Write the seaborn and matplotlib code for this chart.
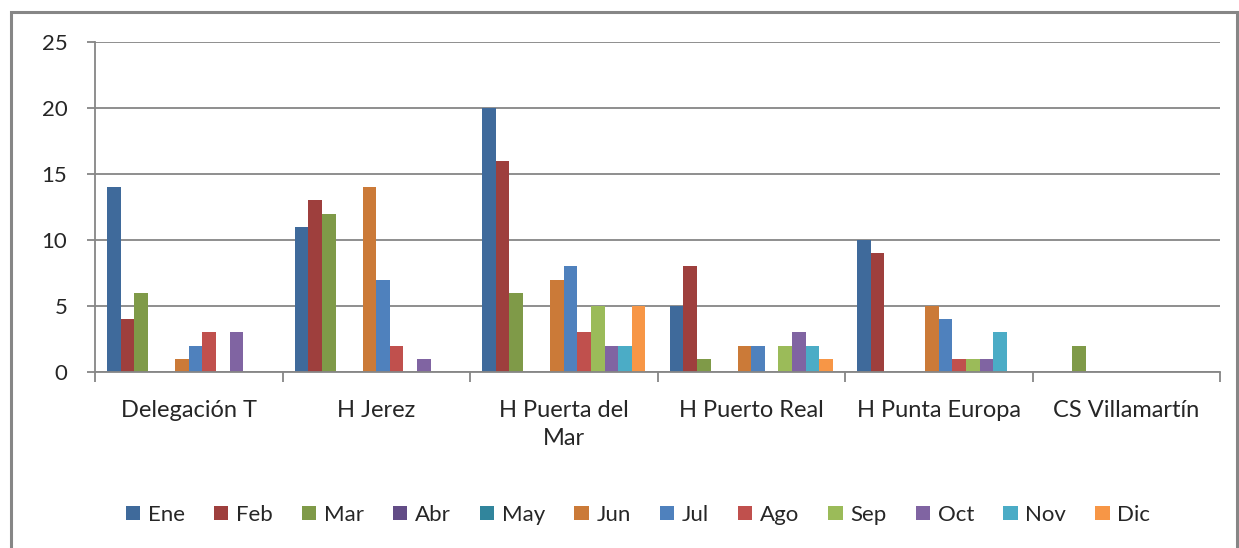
import pandas as pd
import matplotlib.pyplot as plt
import seaborn as sns
from matplotlib.patches import Rectangle, Patch

# plot setting
sns.set_theme(style='white')
plt.rcParams['font.family'] = ['Lato', 'DejaVu Sans']

# --- data ---
centros = ['Delegación T', 'H Jerez', 'H Puerta del\nMar', 'H Puerto Real',
           'H Punta Europa', 'CS Villamartín']
meses = ['Ene', 'Feb', 'Mar', 'Abr', 'May', 'Jun', 'Jul', 'Ago', 'Sep', 'Oct', 'Nov', 'Dic']

# values per month, one entry per centre
ene = [14, 11, 20, 5, 10, 0]
feb = [4, 13, 16, 8, 9, 0]
mar = [6, 12, 6, 1, 0, 2]
abr = [0, 0, 0, 0, 0, 0]
may = [0, 0, 0, 0, 0, 0]
jun = [1, 14, 7, 2, 5, 0]
jul = [2, 7, 8, 2, 4, 0]
ago = [3, 2, 3, 0, 1, 0]
sep = [0, 0, 5, 2, 1, 0]
oct_ = [3, 1, 2, 3, 1, 0]
nov = [0, 0, 2, 2, 3, 0]
dic = [0, 0, 5, 1, 0, 0]

colores = ['#3F6A9B', '#9E3F3D', '#7F9A48', '#624C86', '#31859C', '#CB7A38',
           '#4F81BD', '#C0504D', '#9BBB59', '#8064A2', '#4BACC6', '#F79646']

series = [ene, feb, mar, abr, may, jun, jul, ago, sep, oct_, nov, dic]
rows = []
for mes, vals in zip(meses, series):
    for centro, v in zip(centros, vals):
        rows.append({'Centro': centro, 'Mes': mes, 'Valor': v})
df = pd.DataFrame(rows)

# --- figure ---
fig = plt.figure(figsize=(12.39, 5.48), dpi=100)
ax = fig.add_axes([0.0767, 0.3212, 0.908, 0.6022])

sns.barplot(data=df, x='Centro', y='Valor', hue='Mes', order=centros, hue_order=meses,
            palette=colores, width=0.87, saturation=1, errorbar=None, ax=ax, legend=False,
            linewidth=0)

# axes styling
ax.set_ylim(0, 25)
ax.set_yticks([0, 5, 10, 15, 20, 25])
ax.set_xlim(-0.5, 5.5)
ax.yaxis.grid(True, color='#868686', linewidth=1.3)
ax.set_axisbelow(True)
for s in ['top', 'right']:
    ax.spines[s].set_visible(False)
for s in ['left', 'bottom']:
    ax.spines[s].set_color('#868686')
    ax.spines[s].set_linewidth(1.3)
ax.set_xlabel('')
ax.set_ylabel('')

ax.tick_params(axis='y', length=6, width=1.3, color='#868686', pad=14, labelsize=16, left=True)
ax.set_xticks([-0.5, 0.5, 1.5, 2.5, 3.5, 4.5, 5.5], minor=True)
ax.tick_params(axis='x', which='minor', length=7, width=1.3, color='#868686', bottom=True)
ax.tick_params(axis='x', which='major', length=0, pad=20, labelsize=17)
for lbl in ax.get_xticklabels():
    lbl.set_verticalalignment('top')
    lbl.set_linespacing(1.45)

# legend at the bottom
handles = [Patch(facecolor=c, edgecolor='none') for c in colores]
fig.legend(handles, meses, loc='center', bbox_to_anchor=(0.515, 0.06), ncol=12, frameon=False,
           fontsize=16, handlelength=0.65, handleheight=0.6, handletextpad=0.35, columnspacing=1.3)

# outer chart border
fig.patches.append(Rectangle((0.009, -0.05), 0.989, 1.028, transform=fig.transFigure,
                             fill=False, edgecolor='#868686', linewidth=2.2))

fig.savefig('out.png', dpi=100)
plt.close()
